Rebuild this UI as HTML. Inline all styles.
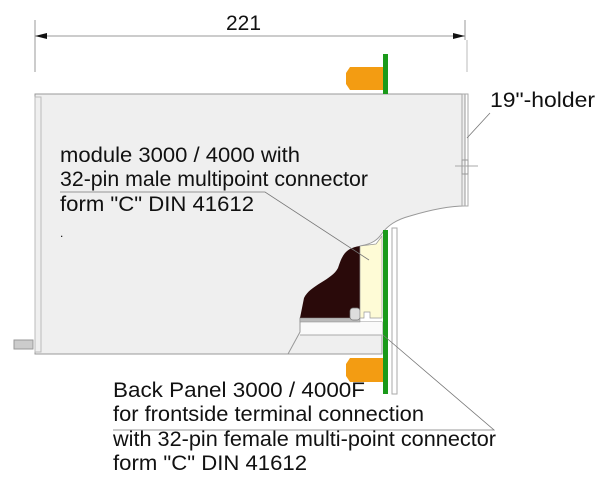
<!DOCTYPE html>
<html><head><style>body{margin:0;background:#fff}svg{display:block}text{font-family:"Liberation Sans",Arial,sans-serif;fill:#111}</style></head><body>
<svg width="603" height="484" viewBox="0 0 603 484" xmlns="http://www.w3.org/2000/svg">
<!-- dimension -->
<line x1="35" y1="20" x2="35" y2="72" stroke="#999" stroke-width="1"/>
<line x1="465" y1="20" x2="465" y2="40" stroke="#999" stroke-width="1"/>
<line x1="467" y1="40" x2="467" y2="72" stroke="#bbb" stroke-width="1"/>
<line x1="35" y1="36" x2="465" y2="36" stroke="#999" stroke-width="1"/>
<polygon points="35,36 47,33 47,39" fill="#111"/>
<polygon points="465,36 453,33 453,39" fill="#111"/>
<text x="226" y="30" font-size="21" textLength="35" lengthAdjust="spacingAndGlyphs">221</text>
<!-- module body -->
<path d="M35,94 L465,94 L465,206 C450,206 430,210 410,216 C395,220 388,226 383,232 C378,240 372,244 360,246 L300,318 L300,322 L382,322 L382,354 L35,354 Z" fill="#efefef" stroke="#999" stroke-width="1"/>
<rect x="300" y="322" width="82" height="13" fill="#fafafa"/>
<line x1="300" y1="335" x2="382" y2="335" stroke="#aaa" stroke-width="1"/>
<polyline points="300,322 300,332 288,354" fill="none" stroke="#999" stroke-width="1"/>
<rect x="35" y="97" width="6" height="255" fill="none" stroke="#bbb" stroke-width="1"/>
<rect x="14" y="340" width="19" height="9" fill="#ccc" stroke="#999" stroke-width="1"/>
<!-- holder -->
<rect x="462" y="94" width="6" height="112" fill="none" stroke="#aaa" stroke-width="1"/>
<line x1="455" y1="166" x2="478" y2="166" stroke="#aaa" stroke-width="1"/>
<rect x="462" y="160" width="6" height="14" fill="none" stroke="#999" stroke-width="1"/>
<!-- dark brown -->
<path d="M360,246 C345,248 342,256 338,268 C332,280 310,285 304,298 L300,318 L360,318 Z" fill="#2a0a0a"/>
<rect x="300" y="318" width="60" height="4" fill="#bbb" stroke="#888" stroke-width="0.5"/>
<rect x="350" y="308" width="10" height="12" rx="3" fill="#ddd" stroke="#777" stroke-width="0.7"/>
<!-- yellow connector -->
<path d="M360,246 L376,244 L382,236 L382,318 L370,318 L370,312 L364,312 L364,318 L360,318 Z" fill="#fefbd6" stroke="#999" stroke-width="0.7"/>
<!-- green board -->
<rect x="383" y="54" width="5" height="40" fill="#1a9a1a"/>
<rect x="383" y="230" width="5" height="164" fill="#1a9a1a"/>
<rect x="392" y="228" width="5" height="166" fill="#fff" stroke="#aaa" stroke-width="1"/>
<!-- orange -->
<path d="M350,67 L383,67 L383,90 L350,90 L346,84 L346,73 Z" fill="#f39c12"/>
<path d="M350,358 L383,358 L383,382 L350,382 L346,376 L346,364 Z" fill="#f39c12"/>
<!-- labels -->
<text x="60" y="162" font-size="21" textLength="240" lengthAdjust="spacingAndGlyphs">module 3000 / 4000 with</text>
<text x="60" y="186" font-size="21" textLength="308" lengthAdjust="spacingAndGlyphs">32-pin male multipoint connector</text>
<text x="60" y="211" font-size="21" textLength="194" lengthAdjust="spacingAndGlyphs">form "C" DIN 41612</text>
<text x="60" y="237" font-size="12">.</text>
<polyline points="60,192 265,192 369,260" fill="none" stroke="#777" stroke-width="0.8"/>
<polyline points="467,138 490,113" fill="none" stroke="#777" stroke-width="0.8"/>
<text x="490" y="107" font-size="21" textLength="105" lengthAdjust="spacingAndGlyphs">19"-holder</text>
<text x="113" y="397" font-size="21" textLength="252" lengthAdjust="spacingAndGlyphs">Back Panel 3000 / 4000F</text>
<text x="113" y="421" font-size="21" textLength="311" lengthAdjust="spacingAndGlyphs">for frontside terminal connection</text>
<text x="113" y="446" font-size="21" textLength="383" lengthAdjust="spacingAndGlyphs">with 32-pin female multi-point connector</text>
<text x="113" y="470" font-size="21" textLength="194" lengthAdjust="spacingAndGlyphs">form "C" DIN 41612</text>
<polyline points="113,430 494,430 383,335" fill="none" stroke="#777" stroke-width="0.8"/>
</svg>
</body></html>
